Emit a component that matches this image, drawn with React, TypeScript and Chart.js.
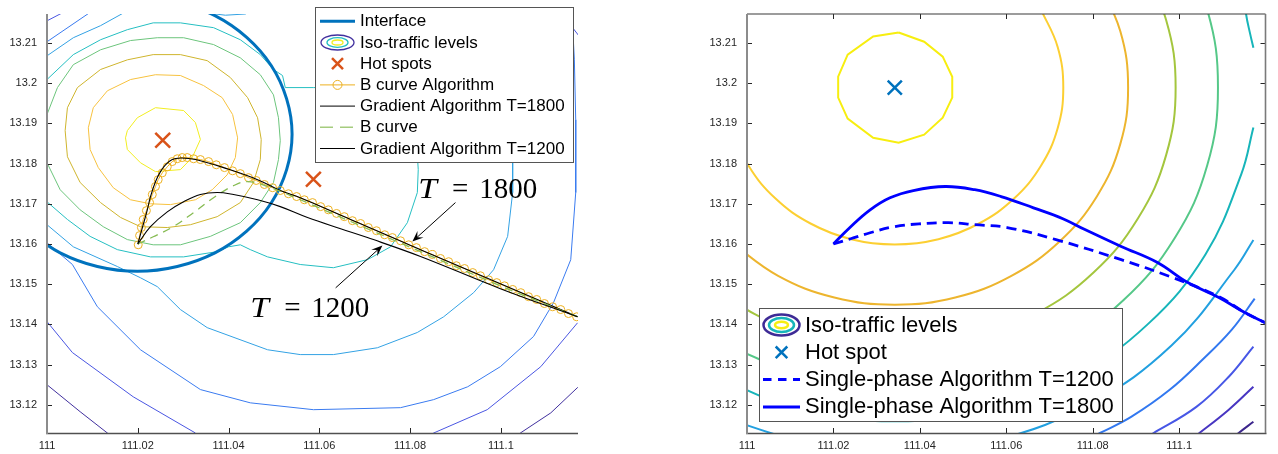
import React, { useEffect, useRef } from "react";
import { Chart, registerables } from "chart.js";

Chart.register(...registerables);

type Pt = [number, number];

const SANS = "'Liberation Sans', Arial, Helvetica, sans-serif";
const SERIF = "'Liberation Serif', 'Times New Roman', 'DejaVu Serif', serif";

// ---------------- shared axes ----------------
const xTickValues = [111, 111.02, 111.04, 111.06, 111.08, 111.1];
const yTickValues = [13.12, 13.13, 13.14, 13.15, 13.16, 13.17, 13.18, 13.19, 13.2, 13.21];
const leftXLimits = [111, 111.117];
const rightXLimits = [111, 111.12];
const yLimits = [13.113, 13.2172];

// ---------------- left panel ----------------
const leftLegendLabels = [
  "Interface",
  "Iso-traffic levels",
  "Hot spots",
  "B curve Algorithm",
  "Gradient Algorithm T=1800",
  "B curve",
  "Gradient Algorithm T=1200",
];

const interfaceCircle: Pt[] = [
  [111.0287, 13.2202], [111.037, 13.2168], [111.044, 13.2114], [111.0494, 13.2044],
  [111.0528, 13.1961], [111.054, 13.1873], [111.0528, 13.1785], [111.0494, 13.1702],
  [111.044, 13.1632], [111.037, 13.1578], [111.0287, 13.1544], [111.0199, 13.1532],
  [111.0111, 13.1544], [111.0029, 13.1578], [110.9958, 13.1632],
];

const leftHotSpots: Pt[] = [[111.0255, 13.1858], [111.0587, 13.1761]];

const bCurveAlgorithm: Pt[] = [
  [111.0201, 13.1598], [111.0204, 13.1621], [111.0208, 13.1641], [111.0212, 13.1661], [111.0219, 13.1683],
  [111.0226, 13.1703], [111.0232, 13.1723], [111.0239, 13.1743], [111.0245, 13.176], [111.0254, 13.1777],
  [111.0265, 13.1792], [111.0276, 13.1805], [111.0287, 13.1812], [111.0298, 13.1815], [111.0309, 13.1815],
  [111.0323, 13.1812], [111.0338, 13.181], [111.0356, 13.1805], [111.0373, 13.1797], [111.0391, 13.179],
  [111.0409, 13.1782], [111.0426, 13.1775], [111.0444, 13.1765], [111.0461, 13.1758], [111.0479, 13.1748],
  [111.0497, 13.174], [111.0514, 13.1733], [111.0532, 13.1725], [111.055, 13.1718], [111.0567, 13.171],
  [111.0585, 13.1703], [111.0603, 13.1693], [111.062, 13.1685], [111.0638, 13.1676], [111.0655, 13.1668],
  [111.0673, 13.1658], [111.0691, 13.1651], [111.0708, 13.1641], [111.0726, 13.1633], [111.0744, 13.1623],
  [111.0761, 13.1616], [111.0779, 13.1608], [111.0797, 13.1598], [111.0814, 13.1591], [111.0832, 13.1581],
  [111.0849, 13.1574], [111.0867, 13.1564], [111.0885, 13.1556], [111.0902, 13.1546], [111.092, 13.1539],
  [111.0938, 13.1529], [111.0955, 13.1521], [111.0973, 13.1511], [111.0991, 13.1504], [111.1008, 13.1496],
  [111.1026, 13.1487], [111.1044, 13.1479], [111.1061, 13.1469], [111.1079, 13.1462], [111.1096, 13.1452],
  [111.1114, 13.1444], [111.1132, 13.1437], [111.1149, 13.1427], [111.1167, 13.1419],
];

const gradientT1800: Pt[] = [
  [111.02, 13.16], [111.0212, 13.1648], [111.0221, 13.1685], [111.0228, 13.1718], [111.0239, 13.1755],
  [111.025, 13.178], [111.0261, 13.1797], [111.0276, 13.181], [111.0294, 13.1814], [111.0316, 13.1812],
  [111.0338, 13.1807], [111.0389, 13.179], [111.0464, 13.176], [111.0514, 13.1733], [111.0558, 13.1715],
  [111.0669, 13.1661], [111.0823, 13.1586], [111.0999, 13.1501], [111.1169, 13.1419],
];

const bCurve: Pt[] = [
  [111.02, 13.16], [111.0234, 13.1618], [111.0278, 13.1643], [111.0323, 13.1678], [111.0367, 13.1715],
  [111.0411, 13.1745], [111.0442, 13.1755], [111.0486, 13.1743], [111.0558, 13.171], [111.0669, 13.1656],
  [111.0823, 13.1581], [111.0999, 13.1496], [111.1169, 13.1419],
];

const gradientT1200: Pt[] = [
  [111.02, 13.16], [111.0228, 13.1643], [111.0265, 13.168], [111.0301, 13.1705], [111.0338, 13.1723],
  [111.0375, 13.1728], [111.0411, 13.1723], [111.0464, 13.171], [111.0514, 13.1693], [111.0574, 13.1666],
  [111.0647, 13.1638], [111.0706, 13.1616], [111.0823, 13.1569], [111.0999, 13.1489], [111.1169, 13.1419],
];

// iso-traffic contours of the left panel, highest level first
const leftIso1: Pt[][] = [[
  [111.0239, 13.1939], [111.0301, 13.1932], [111.0327, 13.1902], [111.0338, 13.186], [111.032, 13.1815],
  [111.0294, 13.1785], [111.0239, 13.178], [111.0206, 13.1802], [111.0177, 13.1835], [111.0173, 13.1864],
  [111.0177, 13.1882], [111.0199, 13.1914], [111.0239, 13.1939],
]];
const leftIso2: Pt[][] = [[
  [111.0239, 13.2021], [111.0294, 13.2019], [111.0345, 13.1994], [111.0386, 13.1964], [111.0409, 13.1922],
  [111.042, 13.1864], [111.0415, 13.1815], [111.0397, 13.1772], [111.0364, 13.1735], [111.0327, 13.171],
  [111.0272, 13.1698], [111.0228, 13.17], [111.0184, 13.171], [111.0146, 13.174], [111.0113, 13.179],
  [111.0095, 13.1835], [111.0091, 13.1889], [111.0102, 13.1939], [111.0133, 13.1981], [111.0184, 13.2009],
  [111.0239, 13.2021],
]];
const leftIso3: Pt[][] = [[
  [111.0234, 13.2071], [111.0294, 13.2071], [111.0353, 13.2056], [111.0404, 13.2014], [111.0442, 13.1964],
  [111.0464, 13.1914], [111.0472, 13.186], [111.047, 13.181], [111.0455, 13.1753], [111.0426, 13.1703],
  [111.0375, 13.1668], [111.0316, 13.1648], [111.0265, 13.1641], [111.0206, 13.1643], [111.0162, 13.1666],
  [111.0118, 13.1703], [111.0073, 13.1753], [111.0045, 13.1817], [111.004, 13.1882], [111.0045, 13.1939],
  [111.0067, 13.1989], [111.0118, 13.2034], [111.0177, 13.2058], [111.0234, 13.2071],
]];
const leftIso4: Pt[][] = [[
  [111.0, 13.1922], [111.0023, 13.1989], [111.0058, 13.2046], [111.0118, 13.2083], [111.0184, 13.2106],
  [111.0243, 13.2113], [111.0301, 13.2113], [111.0367, 13.2096], [111.0426, 13.2063], [111.047, 13.2021],
  [111.0499, 13.1971], [111.051, 13.1914], [111.0514, 13.1857], [111.051, 13.181], [111.0499, 13.1753],
  [111.047, 13.1703], [111.0426, 13.1653], [111.036, 13.1619], [111.0294, 13.1598], [111.0234, 13.1598],
  [111.0177, 13.1611], [111.0124, 13.1643], [111.0073, 13.1685], [111.0029, 13.1735], [111.0, 13.1802],
]];
const leftIso5: Pt[][] = [[
  [111.0, 13.2009], [111.0058, 13.2071], [111.0118, 13.2108], [111.0177, 13.2133], [111.0234, 13.215],
  [111.0294, 13.215], [111.0367, 13.2138], [111.0426, 13.2108], [111.047, 13.2071], [111.0499, 13.2034],
  [111.0519, 13.2019], [111.0525, 13.1989], [111.0587, 13.1989], [111.0658, 13.1989], [111.0746, 13.1971],
  [111.0796, 13.1922], [111.0814, 13.186], [111.0818, 13.1785], [111.0816, 13.1728], [111.0794, 13.1653],
  [111.0757, 13.1593], [111.0706, 13.1561], [111.0631, 13.1541], [111.0558, 13.1549], [111.0486, 13.1568],
  [111.0448, 13.1586], [111.0426, 13.1598], [111.04, 13.1593], [111.0375, 13.1581], [111.0301, 13.1568],
  [111.0228, 13.1568], [111.0155, 13.1586], [111.0095, 13.1619], [111.0045, 13.1661], [111.0, 13.1705],
]];
const leftIso6: Pt[][] = [[
  [111.0, 13.2068], [111.0058, 13.2113], [111.0118, 13.2143], [111.0166, 13.2173], [111.0228, 13.2198],
  [111.0294, 13.2195], [111.0349, 13.2175], [111.0393, 13.2169], [111.0437, 13.2172], [111.047, 13.2188],
  [111.0558, 13.2208], [111.0933, 13.2208], [111.0999, 13.2133], [111.1024, 13.1959], [111.1026, 13.181],
  [111.1026, 13.1728], [111.1015, 13.1619], [111.0984, 13.1536], [111.094, 13.1479], [111.0874, 13.1419],
  [111.0816, 13.138], [111.0728, 13.1342], [111.0631, 13.1325], [111.0558, 13.1325], [111.0486, 13.1337],
  [111.0353, 13.1392], [111.0294, 13.1437], [111.0243, 13.1494], [111.0206, 13.1516], [111.0155, 13.1544],
  [111.0058, 13.1593], [111.0, 13.1648],
]];
const leftIso7: Pt[][] = [[
  [111.0, 13.2103], [111.0091, 13.2173], [111.0118, 13.2195], [111.1132, 13.2208], [111.1158, 13.2146],
  [111.1162, 13.2058], [111.1165, 13.1909], [111.1165, 13.1728], [111.1154, 13.1561], [111.1116, 13.1454],
  [111.1072, 13.137], [111.0999, 13.1295], [111.0927, 13.1245], [111.0852, 13.1213], [111.0779, 13.1193],
  [111.0587, 13.1188], [111.0448, 13.1205], [111.0338, 13.1238], [111.0206, 13.1337], [111.0111, 13.1444],
  [111.0056, 13.1549], [111.0, 13.1603],
]];
const leftIso8: Pt[][] = [
  [[110.9985, 13.2146], [111.0, 13.2155], [111.0034, 13.2175], [111.0051, 13.2195]],
  [[111.1187, 13.2096], [111.1158, 13.2138], [111.1121, 13.2208]],
  [
    [111.0, 13.1407], [111.0056, 13.133], [111.019, 13.122], [111.0327, 13.113], [111.0338, 13.1113],
    [111.04, 13.1039], [111.08, 13.1039], [111.0834, 13.1113], [111.0852, 13.113], [111.097, 13.1188],
    [111.1088, 13.1295], [111.1169, 13.1404],
  ],
];
const leftIso9: Pt[][] = [[
  [110.9985, 13.1267], [111.0, 13.125], [111.0073, 13.1183], [111.0133, 13.113], [111.0151, 13.1113],
  [111.0228, 13.1039], [111.0955, 13.1039], [111.1021, 13.1113], [111.1043, 13.113], [111.111, 13.118],
  [111.1169, 13.1243], [111.1187, 13.1263],
]];

const leftIsoLevels = [leftIso1, leftIso2, leftIso3, leftIso4, leftIso5, leftIso6, leftIso7, leftIso8, leftIso9];
const leftIsoColors = ["#F2EE20", "#F7C23F", "#CFB52D", "#6CC57C", "#25BFC2", "#33A2E4", "#3A7BF0", "#4A56E2", "#41309E"];

// ---------------- right panel ----------------
const rightLegendLabels = [
  "Iso-traffic levels",
  "Hot spot",
  "Single-phase Algorithm T=1200",
  "Single-phase Algorithm T=1800",
];

const rightHotSpot: Pt[] = [[111.0342, 13.1989]];

const singlePhaseT1200: Pt[] = [
  [111.02, 13.16], [111.024, 13.1613], [111.0285, 13.1628], [111.034, 13.1643], [111.0398, 13.165],
  [111.0466, 13.1653], [111.0527, 13.1648], [111.0602, 13.1641], [111.0715, 13.1611], [111.0866, 13.1561],
  [111.0979, 13.1519], [111.1092, 13.1469], [111.1153, 13.1429], [111.12, 13.1404],
];

const singlePhaseT1800: Pt[] = [
  [111.02, 13.16], [111.024, 13.1643], [111.0285, 13.1685], [111.0331, 13.1715], [111.0385, 13.1733],
  [111.0459, 13.1743], [111.0527, 13.1735], [111.0588, 13.1718], [111.0663, 13.169], [111.0731, 13.1663],
  [111.0782, 13.1636], [111.0866, 13.1594], [111.095, 13.1554], [111.1017, 13.1506], [111.1092, 13.1467],
  [111.1153, 13.1429], [111.12, 13.1404],
];

const rightIso1: Pt[][] = [[
  [111.0351, 13.2126], [111.041, 13.2103], [111.0453, 13.2066], [111.0475, 13.2016], [111.0475, 13.1964],
  [111.0453, 13.1914], [111.041, 13.1872], [111.0351, 13.1852], [111.0292, 13.1864], [111.0233, 13.1912],
  [111.0211, 13.1964], [111.0211, 13.2016], [111.0233, 13.2071], [111.0292, 13.2116], [111.0351, 13.2126],
]];
const rightIso2: Pt[][] = [[
  [111.068, 13.2184], [111.0719, 13.209], [111.0732, 13.1989], [111.0719, 13.1888], [111.068, 13.1794],
  [111.0618, 13.1713], [111.0537, 13.1651], [111.0443, 13.1612], [111.0342, 13.1599], [111.0241, 13.1612],
  [111.0147, 13.1651], [111.0066, 13.1713], [111.0004, 13.1794], [110.9965, 13.1888],
]];
const rightIso3: Pt[][] = [[
  [111.081, 13.2259], [111.0864, 13.2129], [111.0882, 13.1989], [111.0864, 13.1849], [111.081, 13.1719],
  [111.0724, 13.1607], [111.0612, 13.1521], [111.0482, 13.1467], [111.0342, 13.1449], [111.0202, 13.1467],
  [111.0072, 13.1521], [110.996, 13.1607],
]];
const rightIso4: Pt[][] = [[
  [111.0905, 13.2314], [111.097, 13.2157], [111.0992, 13.1989], [111.097, 13.1821], [111.0905, 13.1664],
  [111.0802, 13.1529], [111.0667, 13.1426], [111.051, 13.1361], [111.0342, 13.1339], [111.0174, 13.1361],
  [111.0017, 13.1426], [110.9882, 13.1529],
]];
const rightIso5: Pt[][] = [[
  [111.099, 13.2363], [111.1065, 13.2183], [111.109, 13.1989], [111.1065, 13.1795], [111.099, 13.1615],
  [111.0871, 13.146], [111.0716, 13.1341], [111.0536, 13.1266], [111.0342, 13.1241], [111.0148, 13.1266],
  [110.9968, 13.1341],
]];
const rightIso6: Pt[][] = [
  [[111.115, 13.223], [111.1155, 13.2172], [111.1165, 13.212], [111.1172, 13.2088]],
  [
    [111.1172, 13.189], [111.1144, 13.1774], [111.1061, 13.1574], [111.0929, 13.1402], [111.0757, 13.127],
    [111.0557, 13.1187], [111.0342, 13.1159], [111.0127, 13.1187], [110.9927, 13.127],
  ],
];
const rightIso7: Pt[][] = [[
  [111.1172, 13.161], [111.1128, 13.1536], [111.0983, 13.1348], [111.0796, 13.1204], [111.0577, 13.1113],
  [111.0342, 13.1082], [111.0185, 13.1096], [110.9995, 13.1151], [110.9889, 13.1204],
]];
const rightIso8: Pt[][] = [[
  [111.1175, 13.1464], [111.1122, 13.1387], [111.1054, 13.1312], [111.0979, 13.1238], [111.0889, 13.117],
  [111.0817, 13.113], [111.078, 13.111],
]];
const rightIso9: Pt[][] = [[
  [111.1172, 13.1345], [111.1115, 13.127], [111.104, 13.1195], [111.0941, 13.113], [111.0912, 13.1113],
]];
const rightIso10: Pt[][] = [[
  [111.1172, 13.1245], [111.1115, 13.1188], [111.1047, 13.113], [111.1025, 13.1113],
]];
const rightIso11: Pt[][] = [[
  [111.1172, 13.1158], [111.1138, 13.113], [111.1122, 13.1113],
]];

const rightIsoLevels = [
  rightIso1, rightIso2, rightIso3, rightIso4, rightIso5, rightIso6,
  rightIso7, rightIso8, rightIso9, rightIso10, rightIso11,
];
const rightIsoColors = [
  "#F7EE10", "#FCCF32", "#EDB52E", "#A4C63E", "#55C888", "#17B5BA",
  "#22A0E0", "#3278F0", "#4757E6", "#4836C2", "#3C268C",
];

// ---------------- helpers ----------------
const toXY = (pts: Pt[]) => pts.map(([x, y]) => ({ x, y }));

function lineDataset(pts: Pt[], color: string, width: number, extra: any = {}) {
  return {
    data: toXY(pts),
    showLine: true,
    borderColor: color,
    borderWidth: width,
    pointRadius: 0,
    pointHoverRadius: 0,
    tension: 0,
    fill: false,
    ...extra,
  };
}

function contourDatasets(levels: Pt[][][], colors: string[], width: number, tensionFor: (i: number) => number) {
  const out: any[] = [];
  levels.forEach((pieces, i) =>
    pieces.forEach((piece) => out.push(lineDataset(piece, colors[i], width, { tension: tensionFor(i), order: 100 })))
  );
  return out;
}

function markerDataset(pts: Pt[], color: string, radius: number, width: number, order: number) {
  return {
    data: toXY(pts),
    showLine: false,
    pointStyle: "crossRot",
    pointRadius: radius,
    pointHoverRadius: radius,
    pointBorderColor: color,
    pointBackgroundColor: color,
    pointBorderWidth: width,
    borderColor: color,
    order,
  };
}

function buildScales(xLimits: number[], yAxisWidth: number) {
  const font = { family: SANS, size: 11 };
  const fmt = (v: any) => String(Number(Number(v).toFixed(3)));
  return {
    x: {
      type: "linear",
      position: "bottom",
      min: xLimits[0],
      max: xLimits[1],
      afterBuildTicks: (s: any) => {
        s.ticks = xTickValues.map((value) => ({ value }));
      },
      afterFit: (s: any) => {
        s.height = 21;
      },
      grid: { display: false, drawTicks: true, tickLength: 6.5 },
      border: { display: false },
      ticks: { autoSkip: false, maxRotation: 0, minRotation: 0, padding: 0, color: "#262626", font, callback: fmt },
    },
    y: {
      type: "linear",
      position: "left",
      min: yLimits[0],
      max: yLimits[1],
      afterBuildTicks: (s: any) => {
        s.ticks = yTickValues.map((value) => ({ value }));
      },
      afterFit: (s: any) => {
        s.width = yAxisWidth;
      },
      grid: { display: false, drawTicks: true, tickLength: 10 },
      border: { display: false },
      ticks: { autoSkip: false, padding: 0, color: "#262626", font, callback: fmt },
    },
  };
}

function framePlugin(box: boolean) {
  return {
    id: box ? "frameBox" : "frameOpen",
    afterDatasetsDraw(chart: any) {
      const { ctx, chartArea: a, scales } = chart;
      const L = a.left, R = a.right, T = a.top, B = a.bottom;
      ctx.save();
      ctx.lineWidth = 1;
      ctx.strokeStyle = "#262626";
      ctx.beginPath();
      for (const v of xTickValues) {
        const p = Math.round(scales.x.getPixelForValue(v)) + 0.5;
        ctx.moveTo(p, B);
        ctx.lineTo(p, B - 5);
        if (box) {
          ctx.moveTo(p, T);
          ctx.lineTo(p, T + 5);
        }
      }
      for (const v of yTickValues) {
        const p = Math.round(scales.y.getPixelForValue(v)) + 0.5;
        ctx.moveTo(L, p);
        ctx.lineTo(L + 5, p);
        if (box) {
          ctx.moveTo(R, p);
          ctx.lineTo(R - 5, p);
        }
      }
      ctx.stroke();
      ctx.lineWidth = 1.5;
      ctx.strokeStyle = "#505050";
      ctx.beginPath();
      ctx.moveTo(L - 1, B + 0.5);
      ctx.lineTo(R + (box ? 1 : 0), B + 0.5);
      ctx.stroke();
      if (box) {
        ctx.lineWidth = 1.2;
        ctx.strokeStyle = "#3a3a3a";
        ctx.beginPath();
        ctx.moveTo(L, T);
        ctx.lineTo(R, T);
        ctx.stroke();
        ctx.lineWidth = 1.6;
        ctx.strokeStyle = "#7a7a7a";
        ctx.beginPath();
        ctx.moveTo(R, T);
        ctx.lineTo(R, B);
        ctx.stroke();
      }
      ctx.lineWidth = 2;
      ctx.strokeStyle = "#8c8c8c";
      ctx.beginPath();
      ctx.moveTo(L, T);
      ctx.lineTo(L, B + 1);
      ctx.stroke();
      ctx.restore();
    },
  };
}

type Ring = { rx: number; ry: number; color: string };
type LegendItem = {
  kind: "line" | "iso" | "cross" | "lineCircle";
  color?: string;
  width?: number;
  dash?: number[];
  rings?: Ring[];
  size?: number;
  r?: number;
};
type LegendSpec = {
  box: number[];
  rowY0: number;
  rowStep: number;
  sample: number[];
  textX: number;
  fontSize: number;
  labels: string[];
  items: LegendItem[];
};

function legendPlugin(spec: LegendSpec) {
  return {
    id: "isoLegend",
    afterDraw(chart: any) {
      const ctx = chart.ctx as CanvasRenderingContext2D;
      const [bx, by, bw, bh] = spec.box;
      ctx.save();
      ctx.fillStyle = "#ffffff";
      ctx.fillRect(bx, by, bw, bh);
      ctx.strokeStyle = "#555555";
      ctx.lineWidth = 1;
      ctx.strokeRect(bx + 0.5, by + 0.5, bw, bh);
      const [s0, s1] = spec.sample;
      const cx = (s0 + s1) / 2;
      spec.items.forEach((it, i) => {
        const y = spec.rowY0 + i * spec.rowStep;
        ctx.setLineDash([]);
        if (it.kind === "line" || it.kind === "lineCircle") {
          ctx.strokeStyle = it.color!;
          ctx.lineWidth = it.width!;
          ctx.setLineDash(it.dash || []);
          ctx.beginPath();
          ctx.moveTo(s0, y);
          ctx.lineTo(s1, y);
          ctx.stroke();
          ctx.setLineDash([]);
          if (it.kind === "lineCircle") {
            ctx.beginPath();
            ctx.arc(cx, y, it.r!, 0, Math.PI * 2);
            ctx.stroke();
          }
        } else if (it.kind === "iso") {
          ctx.lineWidth = it.width!;
          it.rings!.forEach((rg) => {
            ctx.strokeStyle = rg.color;
            ctx.beginPath();
            ctx.ellipse(cx, y, rg.rx, rg.ry, 0, 0, Math.PI * 2);
            ctx.stroke();
          });
        } else if (it.kind === "cross") {
          const s = it.size!;
          ctx.strokeStyle = it.color!;
          ctx.lineWidth = it.width!;
          ctx.beginPath();
          ctx.moveTo(cx - s, y - s);
          ctx.lineTo(cx + s, y + s);
          ctx.moveTo(cx + s, y - s);
          ctx.lineTo(cx - s, y + s);
          ctx.stroke();
        }
        ctx.fillStyle = "#000000";
        ctx.font = `${spec.fontSize}px ${SANS}`;
        ctx.textAlign = "left";
        ctx.textBaseline = "middle";
        ctx.fillText(spec.labels[i], spec.textX, y + 0.5);
      });
      ctx.restore();
    },
  };
}

type Annotation = { label: string; anchor: Pt; tail: Pt; tip: Pt };
const leftAnnotations: Annotation[] = [
  { label: "1800", anchor: [111.0818, 13.1715], tail: [111.09, 13.1703], tip: [111.0805, 13.1606] },
  { label: "1200", anchor: [111.0448, 13.1419], tail: [111.0636, 13.1491], tip: [111.0739, 13.1596] },
];

const annotationPlugin = {
  id: "tAnnotations",
  afterDraw(chart: any) {
    const ctx = chart.ctx as CanvasRenderingContext2D;
    const xs = chart.scales.x, ys = chart.scales.y;
    ctx.save();
    leftAnnotations.forEach((an) => {
      const tx = xs.getPixelForValue(an.tail[0]), ty = ys.getPixelForValue(an.tail[1]);
      const hx = xs.getPixelForValue(an.tip[0]), hy = ys.getPixelForValue(an.tip[1]);
      const dx = hx - tx, dy = hy - ty;
      const len = Math.hypot(dx, dy);
      const ux = dx / len, uy = dy / len;
      const nx = -uy, ny = ux;
      const HL = 11, HW = 4.5;
      ctx.strokeStyle = "#000";
      ctx.lineWidth = 1;
      ctx.beginPath();
      ctx.moveTo(tx, ty);
      ctx.lineTo(hx - ux * 6, hy - uy * 6);
      ctx.stroke();
      ctx.fillStyle = "#000";
      ctx.beginPath();
      ctx.moveTo(hx, hy);
      ctx.lineTo(hx - ux * HL + nx * HW, hy - uy * HL + ny * HW);
      ctx.lineTo(hx - ux * HL * 0.6, hy - uy * HL * 0.6);
      ctx.lineTo(hx - ux * HL - nx * HW, hy - uy * HL - ny * HW);
      ctx.closePath();
      ctx.fill();

      const ax = xs.getPixelForValue(an.anchor[0]), ay = ys.getPixelForValue(an.anchor[1]);
      ctx.textBaseline = "alphabetic";
      ctx.textAlign = "left";
      ctx.save();
      ctx.translate(ax, ay);
      ctx.scale(1.12, 1);
      ctx.font = `italic 30px ${SERIF}`;
      ctx.fillText("T", 0, 0);
      ctx.restore();
      ctx.font = `29px ${SERIF}`;
      ctx.textAlign = "center";
      ctx.fillText("=", ax + 42, ay);
      ctx.textAlign = "left";
      ctx.fillText(an.label, ax + 61, ay);
    });
    ctx.restore();
  },
};

function leftConfig(): any {
  const datasets: any[] = [
    ...contourDatasets(leftIsoLevels, leftIsoColors, 1, () => 0),
    lineDataset(interfaceCircle, "#0072BD", 3, { tension: 0.4, order: 60 }),
    markerDataset(leftHotSpots, "#D95319", 10.5, 2.5, 50),
    {
      data: toXY(bCurveAlgorithm),
      showLine: true,
      borderColor: "#EDB120",
      borderWidth: 1,
      pointStyle: "circle",
      pointRadius: 4,
      pointHoverRadius: 4,
      pointBorderColor: "#EDB120",
      pointBackgroundColor: "rgba(0,0,0,0)",
      pointBorderWidth: 1,
      tension: 0,
      order: 40,
    },
    lineDataset(gradientT1800, "#000000", 1.1, { tension: 0.4, order: 30 }),
    lineDataset(bCurve, "#86BB52", 1.3, { tension: 0.4, borderDash: [8, 6], order: 20 }),
    lineDataset(gradientT1200, "#000000", 1.1, { tension: 0.4, order: 10 }),
  ];
  return {
    type: "scatter",
    data: { datasets },
    options: {
      animation: false,
      responsive: false,
      devicePixelRatio: 1,
      events: [],
      layout: { padding: { top: 14, right: 61, bottom: 0, left: 0 } },
      plugins: { legend: { display: false }, tooltip: { enabled: false } },
      scales: buildScales(leftXLimits, 47),
    },
    plugins: [
      framePlugin(false),
      legendPlugin({
        box: [315, 7, 258, 155],
        rowY0: 21.3,
        rowStep: 21.2,
        sample: [320, 355],
        textX: 360,
        fontSize: 17,
        labels: leftLegendLabels,
        items: [
          { kind: "line", color: "#0072BD", width: 3 },
          {
            kind: "iso",
            width: 1.3,
            rings: [
              { rx: 16.5, ry: 7.5, color: "#41309E" },
              { rx: 10.5, ry: 4.8, color: "#25BFC2" },
              { rx: 5.5, ry: 2.5, color: "#F2EE20" },
            ],
          },
          { kind: "cross", color: "#D95319", width: 2.5, size: 5.5 },
          { kind: "lineCircle", color: "#EDB120", width: 1, r: 4.5 },
          { kind: "line", color: "#000000", width: 1 },
          { kind: "line", color: "#A5CC7E", width: 1.5, dash: [13, 7] },
          { kind: "line", color: "#000000", width: 1 },
        ],
      }),
      annotationPlugin,
    ],
  };
}

function rightConfig(): any {
  const datasets: any[] = [
    ...contourDatasets(rightIsoLevels, rightIsoColors, 2, (i) => (i === 0 ? 0 : 0.4)),
    markerDataset(rightHotSpot, "#0072BD", 10, 2.5, 50),
    lineDataset(singlePhaseT1200, "#0000FF", 2.8, { tension: 0.4, borderDash: [10, 6], order: 20 }),
    lineDataset(singlePhaseT1800, "#0000FF", 2.8, { tension: 0.4, order: 10 }),
  ];
  return {
    type: "scatter",
    data: { datasets },
    options: {
      animation: false,
      responsive: false,
      devicePixelRatio: 1,
      events: [],
      layout: { padding: { top: 14, right: 1, bottom: 0, left: 0 } },
      plugins: { legend: { display: false }, tooltip: { enabled: false } },
      scales: buildScales(rightXLimits, 108),
    },
    plugins: [
      framePlugin(true),
      legendPlugin({
        box: [120, 308, 363, 113],
        rowY0: 325,
        rowStep: 27.3,
        sample: [124, 161],
        textX: 166,
        fontSize: 22,
        labels: rightLegendLabels,
        items: [
          {
            kind: "iso",
            width: 2.5,
            rings: [
              { rx: 18, ry: 10.5, color: "#3E2B96" },
              { rx: 12.5, ry: 7, color: "#17B5BA" },
              { rx: 6.5, ry: 3.3, color: "#F7EE10" },
            ],
          },
          { kind: "cross", color: "#0072BD", width: 2.5, size: 5.8 },
          { kind: "line", color: "#0000FF", width: 3, dash: [8.5, 6.5] },
          { kind: "line", color: "#0000FF", width: 3 },
        ],
      }),
    ],
  };
}

export default function App() {
  const leftRef = useRef<HTMLCanvasElement>(null);
  const rightRef = useRef<HTMLCanvasElement>(null);

  useEffect(() => {
    Chart.defaults.font.family = SANS;
    const c1 = new Chart(leftRef.current as HTMLCanvasElement, leftConfig());
    const c2 = new Chart(rightRef.current as HTMLCanvasElement, rightConfig());
    return () => {
      c1.destroy();
      c2.destroy();
    };
  }, []);

  return (
    <div
      style={{
        position: "absolute",
        left: 0,
        top: 0,
        width: 1278,
        height: 454,
        background: "#ffffff",
        overflow: "hidden",
      }}
    >
      <canvas ref={leftRef} width={639} height={454} style={{ position: "absolute", left: 0, top: 0 }} />
      <canvas ref={rightRef} width={639} height={454} style={{ position: "absolute", left: 639, top: 0 }} />
    </div>
  );
}
